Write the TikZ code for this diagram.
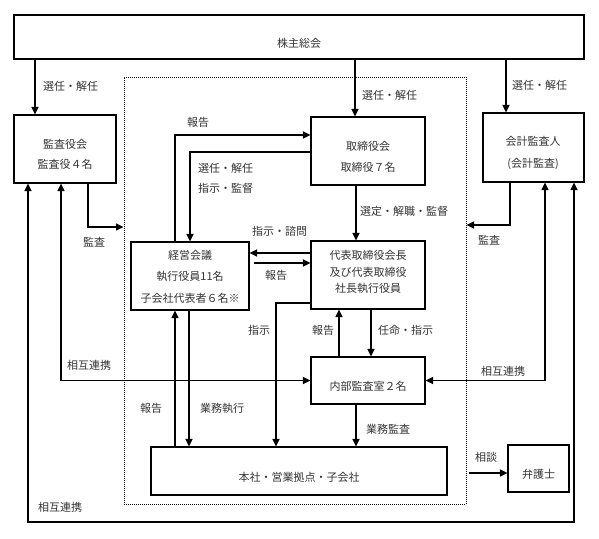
\documentclass[tikz,border=0pt]{standalone}
\usepackage{fontspec}
\setmainfont{Noto Sans CJK JP}
\usetikzlibrary{arrows.meta}
\definecolor{txtgray}{HTML}{333333}
\tikzset{
  box/.style={draw=black, line width=1.1pt, inner sep=0pt},
  txt/.style={text=txtgray, font=\fontsize{11}{13}\selectfont, inner sep=0pt},
  lbl/.style={txt, anchor=west},
  arr/.style={line width=1.1pt, -{Triangle[length=7.5pt,width=7pt]}},
  darr/.style={line width=1.1pt, {Triangle[length=7.5pt,width=7pt]}-{Triangle[length=7.5pt,width=7pt]}},
}
\begin{document}
\begin{tikzpicture}[x=1pt,y=-1pt]
\useasboundingbox (0,0) rectangle (599,538);
% frame
\node[draw=black, dash pattern=on 1pt off 1pt, line width=1pt, minimum width=342pt, minimum height=427pt, inner sep=0pt] (frame) at (295,290.5) {};
% boxes
\node[box, minimum width=570pt, minimum height=44pt] (sh) at (299,37) {};
\node[box, minimum width=102pt, minimum height=68pt] (kansa) at (65,149) {};
\node[box, minimum width=114pt, minimum height=68pt] (tori) at (368,151) {};
\node[box, minimum width=101pt, minimum height=69pt] (kaikei) at (533.5,147.5) {};
\node[box, minimum width=118pt, minimum height=68pt] (keiei) at (190,276) {};
\node[box, minimum width=114pt, minimum height=68pt] (daihyo) at (368,275) {};
\node[box, minimum width=114pt, minimum height=47pt] (naibu) at (368,380.5) {};
\node[box, minimum width=296pt, minimum height=48pt] (honsha) at (299,471) {};
\node[box, minimum width=61pt, minimum height=47pt] (bengo) at (538.5,468.5) {};
% box texts
\node[txt] (tsh) at (299,43) {株主総会};
\node[txt] (tk1) at (65,144) {監査役会};
\node[txt] (tk2) at (65,164) {監査役４名};
\node[txt] (tt1) at (368,146) {取締役会};
\node[txt] (tt2) at (368,167) {取締役７名};
\node[txt] (tc1) at (533,141) {会計監査人};
\node[txt] (tc2) at (533,164) {(会計監査)};
\node[txt] (te1) at (190,255) {経営会議};
\node[txt] (te2) at (190,276) {執行役員11名};
\node[txt] (te3) at (190,298) {子会社代表者６名※};
\node[txt] (td1) at (368,255) {代表取締役会長};
\node[txt] (td2) at (368,272) {及び代表取締役};
\node[txt] (td3) at (368,288) {社長執行役員};
\node[txt] (tn) at (368,386) {内部監査室２名};
\node[txt] (th) at (299,477) {本社・営業拠点・子会社};
\node[txt] (tb) at (538.5,474) {弁護士};
% edge labels
\node[lbl] (l1) at (43,86) {選任・解任};
\node[lbl] (l2) at (362,95) {選任・解任};
\node[lbl] (l3) at (512,85) {選任・解任};
\node[lbl] (l4) at (83,242) {監査};
\node[lbl] (l5) at (478,240) {監査};
\node[lbl] (l6) at (187,122) {報告};
\node[lbl] (l7) at (198,168) {選任・解任};
\node[lbl] (l8) at (198,188) {指示・監督};
\node[lbl] (l9) at (360,211) {選定・解職・監督};
\node[lbl] (l10) at (252,231) {指示・諮問};
\node[lbl] (l11) at (265,275) {報告};
\node[lbl] (l12) at (248,330) {指示};
\node[lbl] (l13) at (312,330) {報告};
\node[lbl] (l14) at (378,330) {任命・指示};
\node[lbl] (l15) at (67,365) {相互連携};
\node[lbl] (l16) at (481,371) {相互連携};
\node[lbl] (l17) at (38,507) {相互連携};
\node[lbl] (l18) at (140,408) {報告};
\node[lbl] (l19) at (200,408) {業務執行};
\node[lbl] (l20) at (366,429) {業務監査};
\node[lbl] (l21) at (475,457) {相談};
% connectors
\draw[arr] (sh.south -| 35,0) -- (kansa.north -| 35,0);
\draw[arr] (sh.south -| 355,0) -- (tori.north -| 355,0);
\draw[arr] (sh.south -| 506,0) -- (kaikei.north -| 506,0);
\draw[arr] (kansa.south -| 88,0) |- (frame.west |- 0,227);
\draw[arr] (kaikei.south -| 510,0) |- (frame.east |- 0,225);
\coordinate (bl) at (28,522);
\coordinate (br) at (574,522);
\draw[darr] (kansa.south -| bl) -- (bl) -- (br) -- (kaikei.south -| br);
\draw[darr] (kansa.south -| 61,0) |- (naibu.west);
\draw[darr] (kaikei.south -| 545,0) |- (naibu.east);
\draw[arr] (keiei.north -| 175,0) |- (tori.west |- 0,135);
\draw[arr] (tori.west |- 0,152) -| (keiei.north);
\draw[arr] (tori.south -| 356,0) -- (daihyo.north -| 356,0);
\draw[arr] (daihyo.west |- 0,253) -- (keiei.east |- 0,253);
\draw[arr] ([xshift=4pt]keiei.east |- 0,263) -- (daihyo.west |- 0,263);
\draw[arr] (daihyo.west |- 0,303) -| (honsha.north -| 276,0);
\draw[arr] (naibu.north -| 339,0) -- (daihyo.south -| 339,0);
\draw[arr] (daihyo.south -| 371,0) -- (naibu.north -| 371,0);
\draw[arr] (naibu.south -| 356,0) -- (honsha.north -| 356,0);
\draw[arr] (honsha.north -| 175,0) -- (keiei.south -| 175,0);
\draw[arr] (keiei.south -| 189,0) -- (honsha.north -| 189,0);
\coordinate (sd) at (469,473);
\draw[arr] (sd) -- (bengo.west |- sd);
\end{tikzpicture}
\end{document}
